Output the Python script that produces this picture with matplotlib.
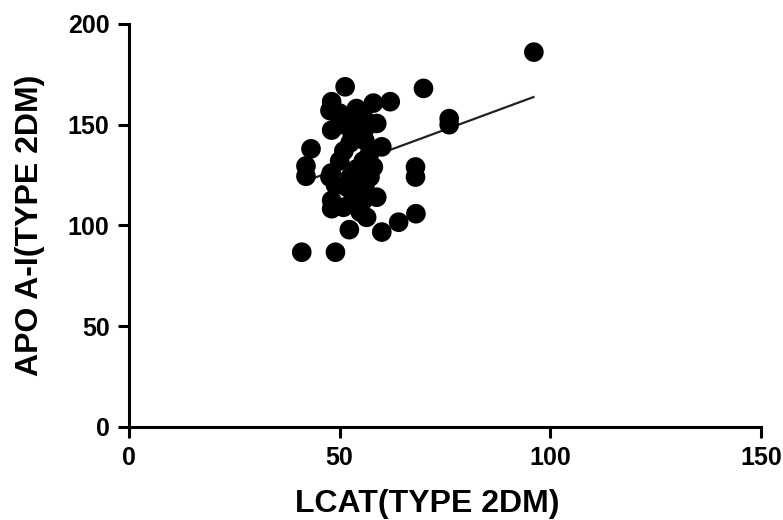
"""Scatter of APO A-I vs LCAT (type 2 DM) with linear fit line."""

import matplotlib

matplotlib.use("Agg")
import matplotlib.pyplot as plt

# values
lcat = [
    96.1, 69.9, 76.0, 76.0, 68.0, 68.0, 43.2, 42.0, 42.0, 41.0,
    49.0, 52.3, 60.0, 64.0, 68.1, 51.3, 62.0, 48.1, 60.0, 58.0,
    48.1, 47.7, 55.6, 58.8, 52.5, 50.0, 56.0, 52.5, 50.0, 55.6,
    58.0, 47.7, 52.5, 57.2, 51.7, 54.9, 48.1, 48.1, 50.9, 55.6,
    58.8, 56.4, 54.9, 48.0, 53.0, 54.0, 51.0, 56.0, 53.0, 50.0,
    57.0, 54.0, 49.0, 56.0,
]
apo_a1 = [
    186.0, 168.0, 153.0, 150.0, 129.0, 124.0, 138.0, 129.5, 124.4, 86.7,
    86.7, 97.9, 96.7, 101.6, 105.8, 168.8, 161.4, 147.3, 139.0, 160.7,
    161.4, 157.0, 154.0, 150.6, 152.0, 155.7, 142.0, 141.0, 132.0, 132.0,
    129.0, 124.0, 124.0, 124.0, 119.0, 117.4, 112.4, 108.3, 109.0, 112.4,
    114.0, 104.0, 106.6, 126.0, 145.0, 128.0, 137.0, 120.0, 112.0, 150.0,
    135.0, 158.0, 120.0, 148.0,
]
fit_x = [41.0, 96.0]
fit_y = [121.3, 163.7]

x_ticks = [0, 50, 100, 150]
y_ticks = [0, 50, 100, 150, 200]

plt.rcParams["font.family"] = ["Liberation Sans", "DejaVu Sans"]
plt.rcParams["font.weight"] = "bold"

fig = plt.figure(figsize=(7.83, 5.20), dpi=100)
ax = fig.add_axes([0.1648, 0.179, 0.807, 0.775])

ax.scatter(lcat, apo_a1, s=200, color="black", edgecolors="none", zorder=3)
ax.plot(fit_x, fit_y, color="#222222", linewidth=1.6, zorder=2)

ax.set_xlim(0, 150)
ax.set_ylim(0, 200)
ax.set_xticks(x_ticks)
ax.set_yticks(y_ticks)

for side in ("top", "right"):
    ax.spines[side].set_visible(False)
for side in ("left", "bottom"):
    ax.spines[side].set_linewidth(2.2)

ax.tick_params(axis="both", direction="out", length=8, width=2.2, labelsize=18, pad=6)
for lbl in ax.get_xticklabels() + ax.get_yticklabels():
    lbl.set_fontweight("bold")

ax.set_xlabel("LCAT(TYPE 2DM)", fontsize=23, fontweight="bold")
ax.set_ylabel("APO A-I(TYPE 2DM)", fontsize=23, fontweight="bold")
ax.xaxis.set_label_coords(0.472, -0.155)
ax.yaxis.set_label_coords(-0.1325, 0.5)

fig.savefig("out.png", dpi=100)
plt.close(fig)
